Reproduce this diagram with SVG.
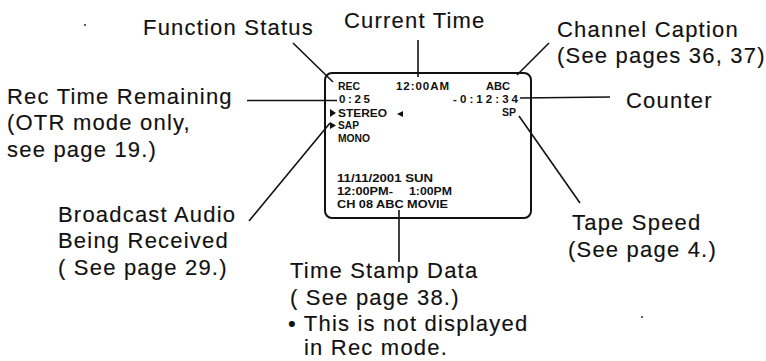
<svg xmlns="http://www.w3.org/2000/svg" width="766" height="361" viewBox="0 0 766 361">
<style>
.lbl{font-family:"Liberation Sans",Arial,sans-serif;font-size:22px;letter-spacing:1.2px;fill:#111;stroke:#111;stroke-width:0.15}
.scr{font-family:"Liberation Sans",Arial,sans-serif;font-size:11.5px;font-weight:bold;fill:#111}
.ln{stroke:#111;stroke-width:1.6;fill:none}
</style>
<rect width="766" height="361" fill="#fff"/>
<g id="screen">
<rect x="325" y="73" width="206" height="145" rx="7" ry="7" fill="none" stroke="#111" stroke-width="2"/>
<text class="scr" x="338" y="90" textLength="22" lengthAdjust="spacingAndGlyphs">REC</text>
<text class="scr" x="396" y="90" textLength="53" lengthAdjust="spacing">12:00AM</text>
<text class="scr" x="486" y="90" textLength="24" lengthAdjust="spacingAndGlyphs">ABC</text>
<text class="scr" x="339" y="103" textLength="31" lengthAdjust="spacing">0:25</text>
<text class="scr" x="453" y="103" textLength="65" lengthAdjust="spacing">-0:12:34</text>
<polygon points="330,109 336,113 330,117" fill="#111"/>
<text class="scr" x="338" y="116.5" textLength="49" lengthAdjust="spacingAndGlyphs">STEREO</text>
<polygon points="403,111 397,114 403,117" fill="#111"/>
<text class="scr" x="502" y="116" textLength="14" lengthAdjust="spacingAndGlyphs">SP</text>
<polygon points="330,122 336,125.5 330,129" fill="#111"/>
<text class="scr" x="338" y="129" textLength="21" lengthAdjust="spacingAndGlyphs">SAP</text>
<text class="scr" x="338" y="142" textLength="32" lengthAdjust="spacingAndGlyphs">MONO</text>
<text class="scr" x="337" y="182" textLength="96" lengthAdjust="spacingAndGlyphs">11/11/2001 SUN</text>
<text class="scr" x="337" y="195" textLength="56" lengthAdjust="spacingAndGlyphs">12:00PM-</text>
<text class="scr" x="409" y="195" textLength="43" lengthAdjust="spacingAndGlyphs">1:00PM</text>
<text class="scr" x="337" y="208" textLength="111" lengthAdjust="spacingAndGlyphs">CH 08 ABC MOVIE</text>
</g>
<g id="connectors">
<line class="ln" x1="293" y1="43" x2="333" y2="82"/>
<line class="ln" x1="418" y1="40" x2="418" y2="77"/>
<line class="ln" x1="549" y1="43" x2="517" y2="75"/>
<line class="ln" x1="520" y1="98" x2="610" y2="97"/>
<line class="ln" x1="247" y1="100.5" x2="337" y2="100.5"/>
<line class="ln" x1="519" y1="116" x2="580" y2="203"/>
<line class="ln" x1="249" y1="221" x2="330" y2="123"/>
<line class="ln" x1="399" y1="210" x2="399" y2="262"/>
</g>
<g id="function-status"><text class="lbl" x="143" y="35">Function Status</text></g>
<g id="current-time"><text class="lbl" x="344" y="28">Current Time</text></g>
<g id="channel-caption"><text class="lbl" x="557" y="37">Channel  Caption</text><text class="lbl" x="557" y="63">(See pages 36, 37)</text></g>
<g id="counter"><text class="lbl" x="626" y="108">Counter</text></g>
<g id="rec-time"><text class="lbl" x="7" y="104">Rec Time Remaining</text><text class="lbl" x="7" y="130">(OTR mode only,</text><text class="lbl" x="7" y="157">see page 19.)</text></g>
<g id="broadcast-audio"><text class="lbl" x="58" y="222">Broadcast Audio</text><text class="lbl" x="58" y="248">Being Received</text><text class="lbl" x="58" y="275">( See page 29.)</text></g>
<g id="tape-speed"><text class="lbl" x="572" y="230">Tape Speed</text><text class="lbl" x="568" y="257">(See page 4.)</text></g>
<g id="time-stamp"><text class="lbl" x="290" y="278">Time Stamp Data</text><text class="lbl" x="290" y="305">( See page 38.)</text><text class="lbl" x="288" y="331">• This is not displayed</text><text class="lbl" x="304" y="355">in Rec mode.</text></g>
<circle cx="85" cy="25" r="0.9" fill="#111"/>
<circle cx="642" cy="317" r="0.9" fill="#111"/>
</svg>
